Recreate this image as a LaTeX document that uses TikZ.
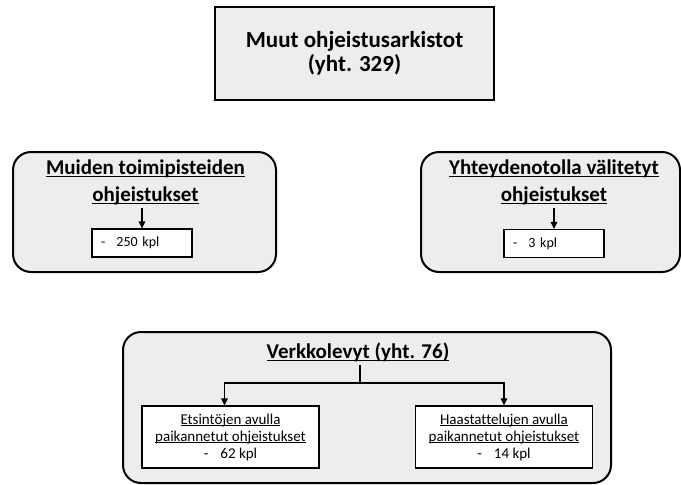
\documentclass[tikz,border=0pt]{standalone}
\usepackage{fontspec}
\setmainfont{Carlito}[Ligatures=NoCommon]
\usetikzlibrary{arrows.meta}
\definecolor{boxgray}{RGB}{237,237,237}
\newcommand\ulin[1]{\mbox{\setbox0\hbox{#1}\rlap{\rule[-0.14em]{\wd0}{0.07em}}\box0}}
\tikzset{
  grpbox/.style={draw=black, fill=boxgray, line width=2pt, rounded corners=18pt},
  cntbox/.style={draw=black, fill=white, line width=1.2pt},
  kplbox/.style={cntbox, minimum width=100pt, minimum height=28pt, text width=82pt, inner xsep=9pt, align=left, font=\fontsize{14}{16}\selectfont},
  subbox/.style={cntbox, minimum width=177pt, minimum height=62pt, align=center, font=\fontsize{15}{17}\selectfont},
  ttl/.style={font=\fontsize{21}{27}\selectfont\bfseries, align=center},
  arr/.style={-{Triangle[width=6.5pt,length=7pt]}, line width=1.3pt},
}
\begin{document}
\begin{tikzpicture}[x=1pt,y=-1pt]
    \useasboundingbox (0,0) rectangle (681,485);

    \node[draw, fill=boxgray, line width=2.6pt, minimum width=279pt, minimum height=93pt, align=center, font=\fontsize{23}{24}\selectfont\bfseries] (muut) at (354.5,53.5) {Muut ohjeistusarkistot\\(yht. 329)};

    % toimipisteet
    \node[grpbox, minimum width=263pt, minimum height=120pt] (lgrp) at (144.5,212) {};
    \node[ttl] (lttl) at (145.5,182) {\ulin{Muiden toimipisteiden}\\\ulin{ohjeistukset}};
    \node[kplbox] (lkpl) at (142,243) {-\hspace{0.8em}250 kpl};
    \draw[arr] (lttl.south -| lkpl.north) -- (lkpl.north);

    % yhteydenotot
    \node[grpbox, minimum width=259pt, minimum height=120pt] (rgrp) at (550.5,212) {};
    \node[ttl] (rttl) at (554,182) {\ulin{Yhteydenotolla välitetyt}\\\ulin{ohjeistukset}};
    \node[kplbox] (rkpl) at (554,243.5) {-\hspace{0.8em}3 kpl};
    \draw[arr] (rttl.south -| rkpl.north) -- (rkpl.north);

    % verkkolevyt
    \node[grpbox, minimum width=488pt, minimum height=151pt] (vgrp) at (367,407.5) {};
    \node[ttl] (vttl) at (358,352) {\ulin{Verkkolevyt (yht. 76)}};
    \node[subbox] (etsi) at (230.5,437) {\ulin{Etsintöjen avulla}\\\ulin{paikannetut ohjeistukset}\\-\hspace{0.8em}62 kpl};
    \node[subbox] (haas) at (504,437) {\ulin{Haastattelujen avulla}\\\ulin{paikannetut ohjeistukset}\\-\hspace{0.8em}14 kpl};
    \coordinate (jako) at (360,383);
    \draw[line width=1.3pt] (vttl.south -| jako) -- (jako);
    \draw[arr] (jako) -| ([xshift=-6pt]etsi.north);
    \draw[arr] (jako) -| (haas.north);
\end{tikzpicture}
\end{document}
